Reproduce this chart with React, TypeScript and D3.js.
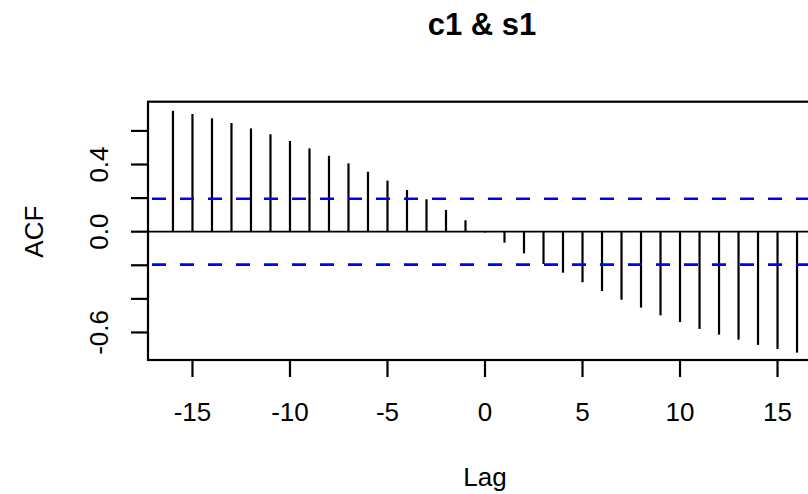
import React from "react";
import * as d3 from "d3";

const lags: number[] = [-16,-15,-14,-13,-12,-11,-10,-9,-8,-7,-6,-5,-4,-3,-2,-1,0,1,2,3,4,5,6,7,8,9,10,11,12,13,14,15,16];
const acfValues: number[] = [
  0.720, 0.701, 0.675, 0.647, 0.615, 0.580, 0.540, 0.496, 0.452, 0.407, 0.357, 0.304, 0.248, 0.193, 0.129, 0.068,
  -0.005,
  -0.065, -0.129, -0.192, -0.244, -0.301, -0.353, -0.405, -0.452, -0.498, -0.538, -0.579, -0.613, -0.643, -0.674, -0.698, -0.720,
];
const ciLevel = 0.196;
const xTicks: number[] = [-15, -10, -5, 0, 5, 10, 15];
const yTicks: number[] = [-0.6, -0.4, -0.2, 0, 0.2, 0.4, 0.6];
const yTickLabels: string[] = ["-0.6", "0.0", "0.4"];
const title = "c1 & s1";
const xLabel = "Lag";
const yLabel = "ACF";

const W = 808, H = 494;
const left = 148, right = 822, top = 101.7, bottom = 360;

export default function App() {
  const x = d3.scaleLinear().domain([-17.28, 17.28]).range([left, right]);
  const y = d3.scaleLinear().domain([-0.764, 0.774]).range([bottom, top]);
  const font = "'Liberation Sans', Arial, Helvetica, sans-serif";
  const fs = 26;
  return (
    <div style={{ position: "fixed", left: 0, top: 0 }}>
      <svg width={W} height={H} style={{ display: "block", background: "#fff" }} fontFamily={font}>
        <text x={x(0) - 3} y={35} textAnchor="middle" fontSize={31} fontWeight="bold">{title}</text>
        {/* zero line */}
        <line x1={left} x2={right} y1={y(0)} y2={y(0)} stroke="#000" strokeWidth={1.8} />
        {/* spikes */}
        {lags.map((l, i) => (
          <line key={l} x1={x(l)} x2={x(l)} y1={y(0)} y2={y(acfValues[i])} stroke="#000" strokeWidth={2.2} />
        ))}
        {/* confidence lines */}
        {[ciLevel, -ciLevel].map((c) => (
          <line key={c} x1={left} x2={right} y1={y(c)} y2={y(c)} stroke="#0000ff" strokeWidth={2.6} strokeDasharray="14,14" strokeDashoffset={-4} />
        ))}
        {/* box */}
        <rect x={left} y={top} width={right - left} height={bottom - top} fill="none" stroke="#000" strokeWidth={2.2} />
        {/* x axis */}
        {xTicks.map((t) => (
          <g key={t}>
            <line x1={x(t)} x2={x(t)} y1={bottom} y2={bottom + 17} stroke="#000" strokeWidth={2.2} />
            <text x={x(t)} y={421} textAnchor="middle" fontSize={fs}>{String(t)}</text>
          </g>
        ))}
        {/* y axis */}
        {yTicks.map((t) => (
          <line key={t} x1={left - 17} x2={left} y1={y(t)} y2={y(t)} stroke="#000" strokeWidth={2.2} />
        ))}
        {yTickLabels.map((t) => (
          <text key={t} transform={`translate(108,${y(parseFloat(t))}) rotate(-90)`} textAnchor="middle" fontSize={fs}>{t}</text>
        ))}
        <text x={x(0)} y={486} textAnchor="middle" fontSize={fs}>{xLabel}</text>
        <text transform={`translate(43,${y(0)}) rotate(-90)`} textAnchor="middle" fontSize={fs}>{yLabel}</text>
      </svg>
    </div>
  );
}
